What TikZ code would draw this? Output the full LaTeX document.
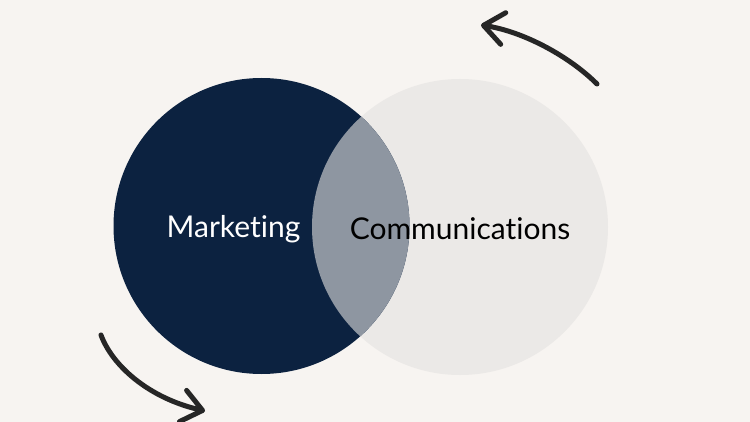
\documentclass[tikz,border=0pt]{standalone}
\usepackage{fontspec}
\setmainfont[Ligatures=NoCommon]{Lato}
\usetikzlibrary{arrows.meta}
\definecolor{paper}{HTML}{F7F4F1}
\definecolor{navy}{HTML}{0C2240}
\definecolor{mist}{HTML}{EBE9E7}
\definecolor{overlap}{HTML}{8E96A1}
\tikzstyle{sketcharrow} = [
    line width=5pt,
    line cap=round,
    -{Straight Barb[length=20pt,width=32pt,line cap=round,line join=round]},
    draw=black!85
]
\tikzstyle{bubble} = [circle, minimum size=296pt, inner sep=0pt]

\begin{document}
\begin{tikzpicture}[x=1pt,y=-1pt,font=\fontsize{30}{33}\selectfont]
% Background
\fill[paper] (0,0) rectangle (750,422);
\useasboundingbox (0,0) rectangle (750,422);

% Circles
\node[bubble, fill=mist] (comm) at (460,227) {};
\node[bubble, fill=navy] (mkt) at (261.5,226) {};
\begin{scope}
  \clip (mkt.center) circle (148pt);
  \fill[overlap] (comm.center) circle (148pt);
\end{scope}

% Labels
\node[text=white] (mktlabel) at (233.5,229) {Marketing};
\node[text=black] (commlabel) at (460,229) {Communications};

% Turning arrows
\coordinate (topstart) at (597,84);
\coordinate (topend) at (481,25);
\draw[sketcharrow] (topstart) .. controls (570,57) and (525,32) .. (topend);
\coordinate (botstart) at (101,335);
\coordinate (botend) at (205,411);
\draw[sketcharrow] (botstart) .. controls (112,365) and (148,398) .. (botend);
\end{tikzpicture}
\end{document}
